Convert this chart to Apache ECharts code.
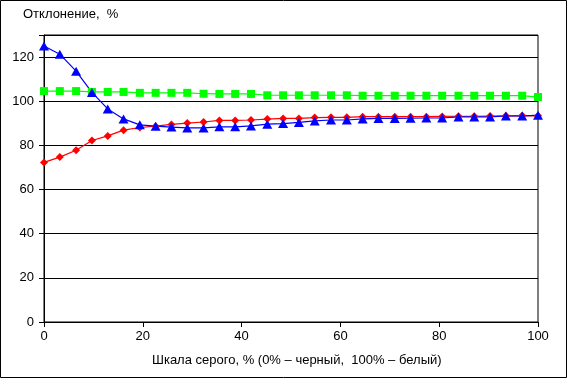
<!DOCTYPE html>
<html><head><meta charset="utf-8">
<script src="https://cdn.jsdelivr.net/npm/echarts@6/dist/echarts.min.js"></script>
<style>html,body{margin:0;padding:0;background:#fff}#c{width:568px;height:379px}</style>
</head><body><div id="c"></div>
<script>
const xValues = [0, 3.2, 6.5, 9.7, 12.9, 16.1, 19.4, 22.6, 25.8, 29.0, 32.3, 35.5, 38.7, 41.9, 45.2, 48.4, 51.6, 54.8, 58.1, 61.3, 64.5, 67.7, 71.0, 74.2, 77.4, 80.6, 83.9, 87.1, 90.3, 93.5, 96.8, 100];
const greenValues = [104.6, 104.6, 104.6, 104.2, 104.2, 104.2, 103.8, 103.8, 103.8, 103.8, 103.4, 103.3, 103.3, 103.3, 102.7, 102.7, 102.7, 102.7, 102.7, 102.7, 102.5, 102.5, 102.5, 102.5, 102.5, 102.5, 102.5, 102.5, 102.5, 102.5, 102.5, 101.9];
const redValues = [72.3, 74.7, 77.8, 82.2, 84.3, 86.9, 88.1, 88.7, 89.5, 90.1, 90.6, 91.3, 91.3, 91.5, 91.9, 92.2, 92.2, 92.6, 92.7, 92.7, 93.0, 93.0, 93.0, 93.0, 93.0, 93.1, 93.2, 93.2, 93.3, 93.4, 93.5, 93.4];
const blueValues = [125.0, 121.3, 113.6, 104.0, 96.5, 92.0, 89.3, 88.7, 88.3, 87.9, 87.9, 88.4, 88.4, 88.8, 89.6, 89.9, 90.4, 91.1, 91.5, 91.5, 92.0, 92.2, 92.2, 92.3, 92.4, 92.4, 92.9, 92.9, 92.9, 93.3, 93.3, 93.7];
const yTitle = 'Отклонение,  %';
const xTitle = 'Шкала серого, % (0% – черный,  100% – белый)';

const font = '"Liberation Sans", Arial, sans-serif';
const pair = arr => arr.map((v, i) => [xValues[i], v]);
const chart = echarts.init(document.getElementById('c'), null, {renderer: 'canvas'});
chart.setOption({
  animation: false,
  backgroundColor: '#fff',
  textStyle: {fontFamily: font},
  grid: {left: 44, right: 30, top: 35, bottom: 57, show: true, borderColor: '#000', borderWidth: 1},
  graphic: [
    {type: 'rect', shape: {x: 0.5, y: 0.5, width: 566, height: 377}, style: {fill: 'none', stroke: '#000', lineWidth: 1}, silent: true},
    {type: 'text', left: 23, top: 8, style: {text: yTitle, font: '13px ' + font, fill: '#000'}},
    {type: 'text', left: 152, top: 354, style: {text: xTitle, font: '13px ' + font, fill: '#000'}}
  ],
  xAxis: {
    type: 'value', min: 0, max: 100, interval: 20,
    axisLine: {lineStyle: {color: '#000', width: 1}},
    axisTick: {show: true, length: 5, lineStyle: {color: '#000'}},
    axisLabel: {color: '#000', fontSize: 13, fontFamily: font, margin: 8},
    splitLine: {show: false}
  },
  yAxis: {
    type: 'value', min: 0, max: 130, interval: 20,
    axisLine: {show: true, lineStyle: {color: '#000', width: 1}},
    axisTick: {show: true, length: 5, lineStyle: {color: '#000'}},
    axisLabel: {color: '#000', fontSize: 13, fontFamily: font, margin: 10, formatter: v => (v > 120 ? '' : String(v))},
    splitLine: {show: true, lineStyle: {color: '#000', width: 1}}
  },
  series: [
    {type: 'line', data: pair(greenValues), symbol: 'rect', symbolSize: 8, lineStyle: {color: '#00ff00', width: 1.2}, itemStyle: {color: '#00ff00'}},
    {type: 'line', data: pair(redValues), symbol: 'diamond', symbolSize: 8, lineStyle: {color: '#ff0000', width: 1.2}, itemStyle: {color: '#ff0000'}},
    {type: 'line', data: pair(blueValues), symbol: 'triangle', symbolSize: [10, 9], lineStyle: {color: '#0000ff', width: 1.2}, itemStyle: {color: '#0000ff'}}
  ]
});
</script></body></html>
